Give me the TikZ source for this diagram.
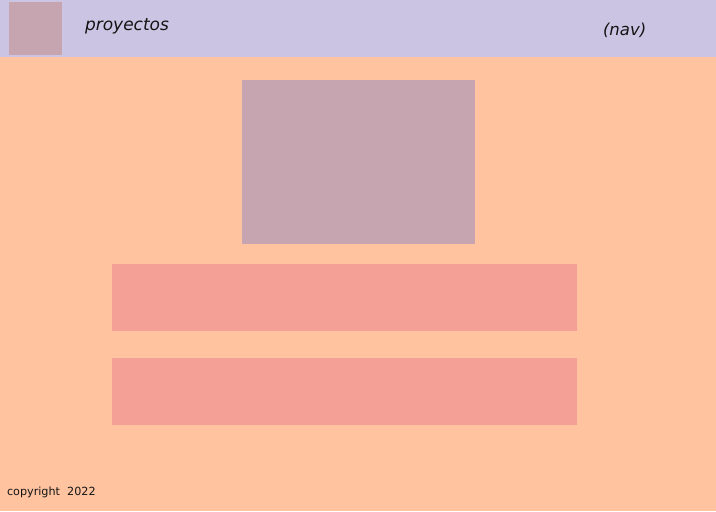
\documentclass[tikz,border=0pt]{standalone}
\usepackage{fontspec}
\setmainfont{DejaVu Sans}
\definecolor{navbg}{RGB}{203,197,227}
\definecolor{bodybg}{RGB}{255,195,160}
\definecolor{mauve}{RGB}{198,165,176}
\definecolor{salmon}{RGB}{244,160,151}
\definecolor{ink}{RGB}{20,20,20}
\begin{document}
\begin{tikzpicture}[x=1pt,y=-1pt,
  blk/.style={draw=none,inner sep=0pt,outer sep=0pt},
  lbl/.style={inner sep=0pt,outer sep=0pt,text=ink}]
\useasboundingbox (0,0) rectangle (716,512);
\fill[white] (0,0) rectangle (716,512);
\fill[bodybg] (0,57) rectangle (716,511);
\fill[navbg] (0,0) rectangle (716,57);
\node[blk,fill=mauve,minimum width=53pt,minimum height=53pt,anchor=north west] (logo) at (9,2) {};
\node[lbl,anchor=base west,font=\itshape\fontsize{17}{19}\selectfont] (title) at (85,30.5) {proyectos};
\node[lbl,anchor=base west,font=\itshape\fontsize{16.5}{18}\selectfont] (nav) at (603,35) {(nav)};
\node[lbl,anchor=base west,font=\fontsize{11.2}{13}\selectfont] (copy) at (7,495) {copyright\ \ 2022};
\node[blk,fill=mauve,minimum width=233pt,minimum height=164pt,anchor=north west] (hero) at (242,80) {};
\node[blk,fill=salmon,minimum width=465pt,minimum height=67pt,anchor=north west] (bar1) at (112,264) {};
\node[blk,fill=salmon,minimum width=465pt,minimum height=67pt,anchor=north west] (bar2) at (112,358) {};
\end{tikzpicture}
\end{document}
